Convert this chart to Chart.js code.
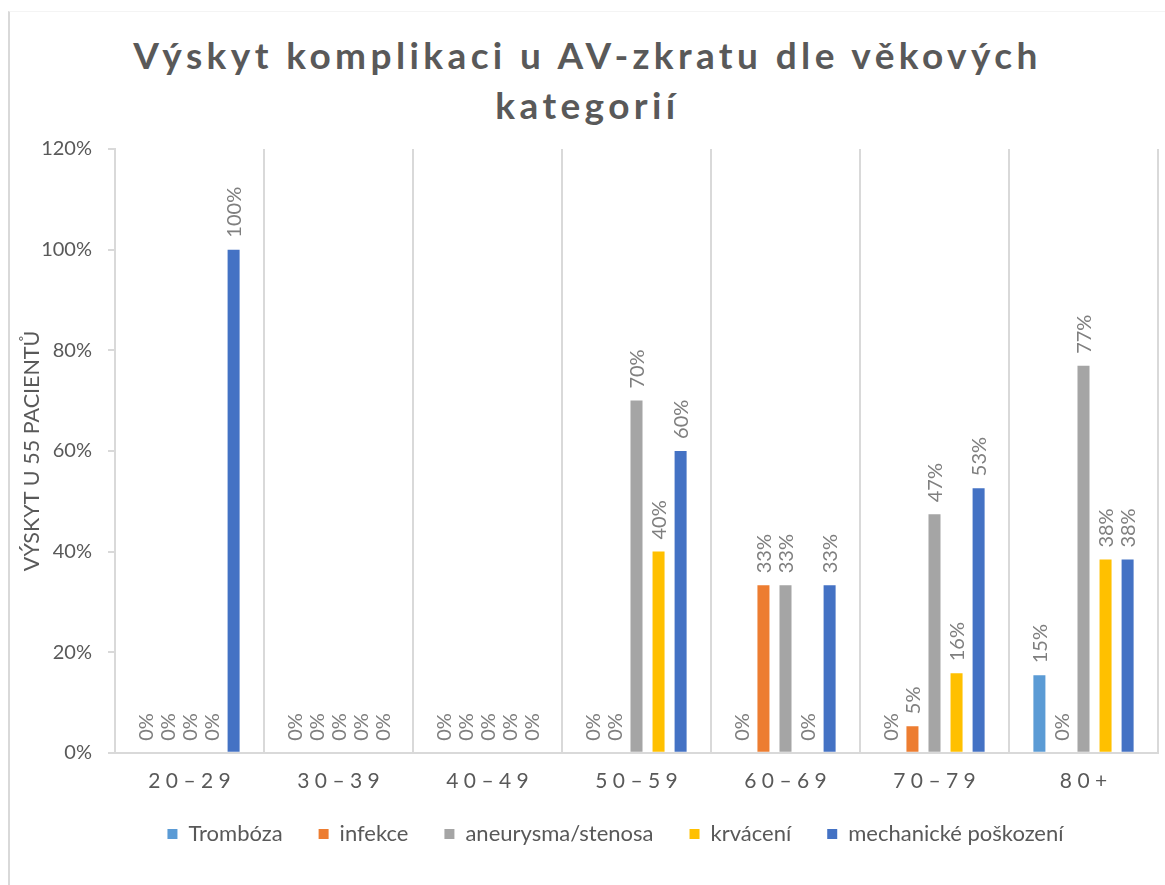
<!DOCTYPE html>
<html>
<head>
<meta charset="utf-8">
<script src="https://cdn.jsdelivr.net/npm/chart.js@4.4.1/dist/chart.umd.min.js"></script>
<style>
  html, body { margin:0; padding:0; background:#fff; }
  #wrap { position:relative; width:1165px; height:885px; overflow:hidden; }
  #frame { position:absolute; left:8px; top:11px; width:1170px; height:900px;
           border-left:2px solid #d9d9d9; border-top:1px solid #f4f4f4; box-sizing:border-box; }
  #title { position:absolute; left:10px; width:1155px; top:30px; text-align:center;
           font-family: Lato, "Open Sans", sans-serif; font-weight:700; font-size:37px;
           letter-spacing:4.4px; line-height:50px; color:#595959; }
  canvas { position:absolute; left:0; top:0; }
</style>
</head>
<body>
<div id="wrap">
  <div id="frame"></div>
  <div id="title">Výskyt komplikaci u AV-zkratu dle věkových<br>kategorií</div>
  <canvas id="c" width="1165" height="885"></canvas>
</div>
<script>
const categories = ['20–29', '30–39', '40–49', '50–59', '60–69', '70–79', '80+'];
const seriesNames = ['Trombóza', 'infekce', 'aneurysma/stenosa', 'krvácení', 'mechanické poškození'];
const trombozaValues   = [0, 0, 0, 0, 0, 0, 15.4];
const infekceValues    = [0, 0, 0, 0, 33.3, 5.3, 0];
const aneurysmaValues  = [0, 0, 0, 70, 33.3, 47.4, 76.9];
const krvaceniValues   = [0, 0, 0, 40, 0, 15.8, 38.4];
const mechanickeValues = [100, 0, 0, 60, 33.3, 52.6, 38.4];
const yTickValues = [0, 20, 40, 60, 80, 100, 120];
const yAxisTitle = 'VÝSKYT U 55 PACIENTŮ';

const colors = ['#5B9BD5', '#ED7D31', '#A5A5A5', '#FFC000', '#4472C4'];
const allValues = [trombozaValues, infekceValues, aneurysmaValues, krvaceniValues, mechanickeValues];
const FONT = 'Lato, "Open Sans", sans-serif';
const TEXT = '#595959';

const labelPlugin = {
  id: 'barLabels',
  afterLayout(chart) {
    const lg = chart.legend;
    if (lg) { lg.left += 27; lg.right += 27; lg.top -= 23; lg.bottom -= 23; }
  },
  afterDatasetsDraw(chart) {
    const ctx = chart.ctx;
    ctx.save();
    ctx.font = '20px ' + FONT;
    ctx.fillStyle = '#7f7f7f';
    ctx.textAlign = 'left';
    ctx.textBaseline = 'middle';
    chart.data.datasets.forEach((ds, di) => {
      const meta = chart.getDatasetMeta(di);
      meta.data.forEach((bar, i) => {
        const v = ds.data[i];
        ctx.save();
        ctx.translate(bar.x, bar.y - 12);
        ctx.rotate(-Math.PI / 2);
        ctx.fillText(Math.round(v) + '%', 0, 1);
        ctx.restore();
      });
    });
    ctx.restore();
  }
};

new Chart(document.getElementById('c'), {
  type: 'bar',
  data: {
    labels: categories,
    datasets: seriesNames.map((n, i) => ({
      label: n,
      data: allValues[i],
      backgroundColor: colors[i],
      borderWidth: 0,
      categoryPercentage: 0.74,
      barPercentage: 0.545
    }))
  },
  options: {
    responsive: false,
    animation: false,
    devicePixelRatio: 1,
    layout: { padding: { top: 149, left: 19, right: 7, bottom: 7 } },
    plugins: {
      title: { display: false },
      tooltip: { enabled: false },
      legend: {
        position: 'bottom',
        labels: {
          font: { family: FONT, size: 22 },
          color: TEXT,
          boxWidth: 10, boxHeight: 10,
          padding: 36
        }
      }
    },
    scales: {
      x: {
        grid: { display: true, offset: true, drawTicks: false, color: '#d9d9d9', lineWidth: 2 },
        border: { display: true, color: '#d9d9d9', width: 2 },
        ticks: {
          font: { family: FONT, size: 21 }, color: TEXT, padding: 16,
          maxRotation: 0,
          callback(v, i) { return categories[i].split('').join(' '); }
        }
      },
      y: {
        min: 0, max: 120,
        afterBuildTicks(scale) { scale.ticks = yTickValues.map(v => ({ value: v })); },
        grid: { display: true, drawOnChartArea: false, drawTicks: true, tickLength: 7, color: '#d9d9d9', lineWidth: 2 },
        border: { display: true, color: '#d9d9d9', width: 2 },
        ticks: {
          font: { family: FONT, size: 20 }, color: TEXT, padding: 16,
          callback(v) { return v + '%'; }
        },
        title: { display: true, text: yAxisTitle, font: { family: FONT, size: 21.5 }, color: TEXT, padding: { top: 0, bottom: 4 } },
        afterFit(scale) { scale.width = 96; }
      }
    }
  },
  plugins: [labelPlugin]
});
</script>
</body>
</html>
